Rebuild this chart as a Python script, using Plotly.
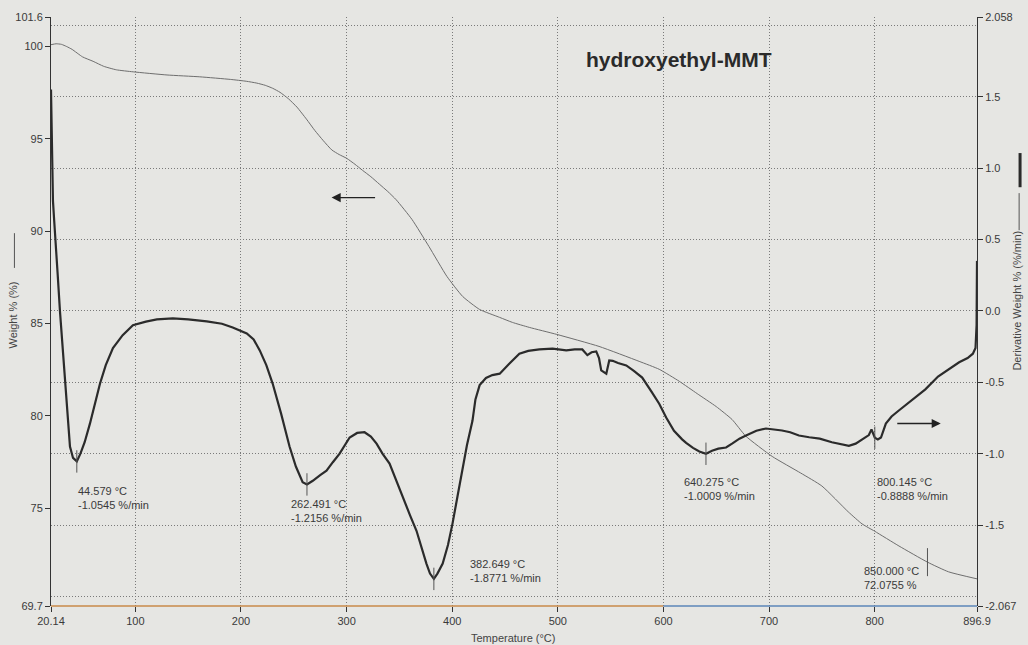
import plotly.graph_objects as go

# ---- TGA weight curve (left axis) ----
temp_w = [20.14, 25, 30, 35, 40, 50, 60, 70, 82, 98, 130, 161, 190, 205, 215, 223, 230,
          237, 245, 253, 262, 270, 278, 286, 293, 300, 308, 315, 323, 331, 339, 347, 362,
          378, 395, 410, 426, 445, 457, 473, 499, 539, 577, 596, 615, 632, 650, 665,
          678, 703, 730, 750, 775, 788, 800, 823, 850, 870, 896.9]
weight = [100.1, 100.15, 100.12, 100.0, 99.85, 99.44, 99.2, 98.93, 98.74, 98.63, 98.46,
          98.36, 98.22, 98.12, 98.02, 97.9, 97.74, 97.52, 97.17, 96.72, 96.07, 95.45,
          94.9, 94.4, 94.15, 93.95, 93.62, 93.3, 92.95, 92.55, 92.15, 91.7, 90.63, 89.17,
          87.55, 86.46, 85.76, 85.33, 85.06, 84.79, 84.41, 83.76, 82.95, 82.52, 81.87,
          81.2, 80.5, 79.8, 78.9, 77.8, 76.9, 76.2, 74.8, 74.15, 73.75, 72.95, 72.0755,
          71.55, 71.17]

# ---- DTG derivative curve (right axis) ----
temp_d = [20.14, 20.6, 21.2, 22, 23, 24.5, 26.5, 28.6, 31, 33.4, 36, 38.1, 41, 44.579,
          48, 52, 57, 62, 66.5, 72, 78.8, 88, 97.7, 110, 120.4, 135.5, 150, 167.6, 182,
          192.2, 205.5, 212, 217.8, 224, 230, 238, 246, 252, 258.4, 262.491, 268, 275,
          281, 287, 293.4, 302.9, 310, 317, 323, 328.4, 334, 340.7, 347, 353, 360,
          366.2, 371, 375.6, 379, 382.649, 386, 391, 396, 400.3, 405, 409.7, 414, 419.2,
          422, 426, 432, 438, 445, 454, 463.6, 472, 482.5, 495, 508, 516, 523.2, 528,
          532, 536.4, 539, 541.1, 545.9, 548.7, 552, 557, 564.8, 572, 579.9, 589.3, 596,
          602.6, 610, 617.7, 621.5, 628, 634, 640.275, 646, 652, 659.3, 665, 672, 678.2,
          688, 697.1, 705, 712.3, 720, 728.3, 738, 748, 759.5, 768, 775.6, 782, 788,
          794.5, 797, 800.145, 803, 806, 810.6, 816, 822.9, 835, 848, 860, 872, 880, 888,
          893, 895.5, 896.5, 896.9]
deriv = [1.55, 1.25, 0.95, 0.77, 0.65, 0.5, 0.25, 0.0, -0.25, -0.5, -0.75, -0.95, -1.03,
         -1.0545, -1.0, -0.92, -0.79, -0.64, -0.51, -0.38, -0.26, -0.17, -0.10, -0.075,
         -0.06, -0.053, -0.06, -0.074, -0.09, -0.116, -0.158, -0.2, -0.277, -0.38, -0.509,
         -0.72, -0.95, -1.09, -1.2, -1.2156, -1.19, -1.15, -1.119, -1.06, -1.0, -0.887,
         -0.855, -0.85, -0.88, -0.93, -1.0, -1.07, -1.19, -1.308, -1.43, -1.54, -1.66,
         -1.77, -1.84, -1.8771, -1.84, -1.77, -1.64, -1.49, -1.30, -1.12, -0.94, -0.77,
         -0.62, -0.52, -0.47, -0.45, -0.44, -0.37, -0.30, -0.28, -0.27, -0.265, -0.277,
         -0.27, -0.27, -0.31, -0.29, -0.284, -0.33, -0.417, -0.44, -0.347, -0.35, -0.365,
         -0.382, -0.42, -0.467, -0.572, -0.65, -0.747, -0.84, -0.9, -0.925, -0.96, -0.985,
         -1.0009, -0.98, -0.965, -0.957, -0.93, -0.895, -0.873, -0.84, -0.824, -0.83,
         -0.838, -0.85, -0.873, -0.885, -0.895, -0.92, -0.935, -0.945, -0.93, -0.9, -0.87,
         -0.83, -0.8888, -0.90, -0.887, -0.789, -0.74, -0.698, -0.628, -0.55, -0.46, -0.40,
         -0.36, -0.33, -0.30, -0.26, -0.1, 0.35]

# ---- peak labels ----
peak_temps = [44.579, 262.491, 382.649, 640.275, 800.145]
peak_rates = [-1.0545, -1.2156, -1.8771, -1.0009, -0.8888]
peak_shift = [(-1, -22), (-18, -12), (34, 23), (-24, -20), (0, -36)]
mass_temp = 850.000
mass_value = 72.0755

# ---- axis ticks ----
x_ticks = [20.14, 100, 200, 300, 400, 500, 600, 700, 800, 896.9]
x_labels = ["20.14", "100", "200", "300", "400", "500", "600", "700", "800", "896.9"]
w_ticks = [101.6, 100, 95, 90, 85, 80, 75, 69.7]
w_labels = ["101.6", "100", "95", "90", "85", "80", "75", "69.7"]
d_ticks = [2.058, 1.5, 1.0, 0.5, 0.0, -0.5, -1.0, -1.5, -2.067]
d_labels = ["2.058", "1.5", "1.0", "0.5", "0.0", "-0.5", "-1.0", "-1.5", "-2.067"]
d_extra_grid = [2.0, -2.0]

FONT = "Liberation Sans, Arial, sans-serif"
BG = "#e6e6e3"
GRID = "#7a7a7a"
DOTS = "1px,2px"
INK = "#3a3a3a"

fig = go.Figure()

fig.add_trace(go.Scatter(x=temp_w, y=weight, mode="lines", yaxis="y",
                         line=dict(color="#6e6e6e", width=1, shape="spline", smoothing=0.5),
                         hoverinfo="skip", showlegend=False))
fig.add_trace(go.Scatter(x=temp_d, y=deriv, mode="lines", yaxis="y2",
                         line=dict(color="#2b2b2b", width=2.2),
                         hoverinfo="skip", showlegend=False))

# small vertical marks at the labelled points
fig.add_trace(go.Scatter(x=peak_temps, y=peak_rates, mode="markers", yaxis="y2",
                         marker=dict(symbol="line-ns", size=16,
                                     line=dict(color="#555555", width=1)),
                         hoverinfo="skip", showlegend=False))
fig.add_trace(go.Scatter(x=[mass_temp], y=[mass_value], mode="markers", yaxis="y",
                         marker=dict(symbol="line-ns", size=20,
                                     line=dict(color="#555555", width=1)),
                         hoverinfo="skip", showlegend=False))

annotations = []
for t, r, (dx, dy) in zip(peak_temps, peak_rates, peak_shift):
    annotations.append(dict(
        x=t, y=r, xref="x", yref="y2", xanchor="left", yanchor="top",
        xshift=dx, yshift=dy, showarrow=False, align="left",
        text=f"{t:.3f} °C<br>{r:.4f} %/min",
        font=dict(family=FONT, size=11, color=INK)))
annotations.append(dict(
    x=mass_temp, y=mass_value, xref="x", yref="y", xanchor="left", yanchor="top",
    xshift=-65, yshift=-1, showarrow=False, align="left",
    text=f"{mass_temp:.3f} °C<br>{mass_value:.4f} %",
    font=dict(family=FONT, size=11, color=INK)))

# title inside the plot
annotations.append(dict(
    x=0.678, y=0.928, xref="paper", yref="paper", xanchor="center", yanchor="middle",
    showarrow=False, text="<b>hydroxyethyl-MMT</b>",
    font=dict(family=FONT, size=21, color="#2a2a2a")))

# arrows pointing to the axis each curve belongs to
annotations.append(dict(x=285.8, y=91.82, xref="x", yref="y", ax=45, ay=0,
                        showarrow=True, arrowhead=2, arrowsize=1.3, arrowwidth=1.4,
                        arrowcolor="#222222", text=""))
annotations.append(dict(x=862.6, y=-0.789, xref="x", yref="y2", ax=-45, ay=0,
                        showarrow=True, arrowhead=2, arrowsize=1.3, arrowwidth=1.4,
                        arrowcolor="#222222", text=""))

# axis titles
annotations.append(dict(x=-0.0405, y=0.494, xref="paper", yref="paper", showarrow=False,
                        xanchor="center", yanchor="middle",
                        text="Weight % (%)", textangle=-90,
                        font=dict(family=FONT, size=11, color="#444444")))
annotations.append(dict(x=1.0435, y=0.519, xref="paper", yref="paper", showarrow=False,
                        xanchor="center", yanchor="middle",
                        text="Derivative Weight % (%/min)", textangle=-90,
                        font=dict(family=FONT, size=11, color="#444444")))
annotations.append(dict(x=0.499, y=-0.055, xref="paper", yref="paper", showarrow=False,
                        xanchor="center", yanchor="middle", text="Temperature (°C)",
                        font=dict(family=FONT, size=11, color="#444444")))

shapes = [
    # legend strokes beside the axis titles
    dict(type="line", xref="paper", yref="paper", x0=-0.0395, x1=-0.0395,
         y0=0.574, y1=0.633, line=dict(color="#555555", width=1)),
    dict(type="line", xref="paper", yref="paper", x0=1.0455, x1=1.0455,
         y0=0.638, y1=0.701, line=dict(color="#555555", width=1)),
    dict(type="line", xref="paper", yref="paper", x0=1.0465, x1=1.0465,
         y0=0.711, y1=0.769, line=dict(color="#2a2a2a", width=3)),
    # coloured baseline along the bottom
    dict(type="line", xref="x", yref="paper", x0=20.14, x1=600, y0=0, y1=0,
         line=dict(color="#c98a4a", width=1.5)),
    dict(type="line", xref="x", yref="paper", x0=600, x1=896.9, y0=0, y1=0,
         line=dict(color="#5b86b8", width=1.5)),
]

fig.update_layout(
    width=1028, height=645,
    margin=dict(l=51, r=51, t=17, b=39, pad=0),
    paper_bgcolor=BG, plot_bgcolor=BG,
    font=dict(family=FONT, size=11, color=INK),
    showlegend=False,
    xaxis=dict(range=[20.14, 896.9], tickmode="array", tickvals=x_ticks, ticktext=x_labels,
               showgrid=True, gridcolor=GRID, griddash=DOTS, gridwidth=1,
               zeroline=False, showline=False, ticks="outside", ticklen=5,
               tickcolor="#333333", tickfont=dict(family=FONT, size=11, color=INK)),
    yaxis=dict(range=[69.7, 101.6], tickmode="array", tickvals=w_ticks, ticktext=w_labels,
               showgrid=False, zeroline=False, showline=True, linecolor="#333333",
               linewidth=1, ticks="outside", ticklen=5, tickcolor="#333333",
               tickfont=dict(family=FONT, size=11, color=INK)),
    yaxis2=dict(range=[-2.067, 2.058], overlaying="y", side="right", tickmode="array",
                tickvals=d_ticks, ticktext=d_labels,
                showgrid=True, gridcolor=GRID, griddash=DOTS, gridwidth=1,
                minor=dict(tickmode="array", tickvals=d_extra_grid, showgrid=True,
                           gridcolor=GRID, griddash=DOTS, ticklen=0),
                zeroline=False, showline=True, linecolor="#333333", linewidth=1,
                ticks="outside", ticklen=5, tickcolor="#333333",
                tickfont=dict(family=FONT, size=11, color=INK)),
    annotations=annotations,
    shapes=shapes,
)

fig.write_html("out.html")
